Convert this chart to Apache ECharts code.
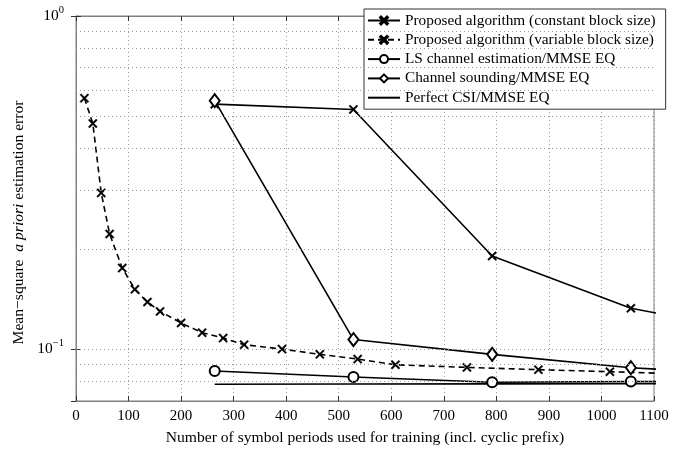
<!DOCTYPE html>
<html>
<head>
<meta charset="utf-8">
<script src="https://cdn.jsdelivr.net/npm/echarts@6/dist/echarts.min.js"></script>
<style>
  html, body { margin: 0; padding: 0; background: #fff; }
  #chart { width: 679px; height: 451px; }
</style>
</head>
<body>
<div id="chart"></div>
<script>
// donnees
const xConst = [264, 528, 792, 1056, 1320];
const yConst = [0.544, 0.5245, 0.1906, 0.1328, 0.1108];

const xVar = [16, 32, 48, 64, 88, 112, 136, 160, 200, 240, 280, 320, 392, 464, 536, 608, 744, 880, 1016, 1152];
const yVar = [0.567, 0.476, 0.2946, 0.2219, 0.1754, 0.1514, 0.1387, 0.130, 0.120, 0.1122, 0.1081, 0.1033,
              0.1002, 0.0966, 0.0935, 0.0899, 0.0883, 0.0869, 0.0857, 0.0844];

const xLS = [264, 528, 792, 1056, 1320];
const yLS = [0.0861, 0.0826, 0.0797, 0.0801, 0.0801];

const xSound = [264, 528, 792, 1056, 1320];
const ySound = [0.557, 0.107, 0.0966, 0.0881, 0.0834];

const xPerfect = [264, 528, 792, 1056, 1320];
const yPerfect = [0.0786, 0.0787, 0.0788, 0.0789, 0.0790];

// lignes de grille (style matlab, echelle log)
const yGrid = [0.08, 0.09, 0.1, 0.2, 0.3, 0.4, 0.5, 0.6, 0.7, 0.8, 0.9];

const names = [
  'Proposed algorithm (constant block size)',
  'Proposed algorithm (variable block size)',
  'LS channel estimation/MMSE EQ',
  'Channel sounding/MMSE EQ',
  'Perfect CSI/MMSE EQ'
];

const FONT = 'Liberation Serif';
const crossPath = 'path://M0,1.3L1.3,0L5,3.7L8.7,0L10,1.3L6.3,5L10,8.7L8.7,10L5,6.3L1.3,10L0,8.7L3.7,5Z';

function pairs(xs, ys) {
  return xs.map((x, i) => [x, ys[i]]);
}

function isPow10(v) {
  const l = Math.log10(v);
  return Math.abs(l - Math.round(l)) < 1e-6;
}

const chart = echarts.init(document.getElementById('chart'));

const axisGray = '#7f7f7f';

// pas de symbole pour la derniere entree de legende
const legendData = names.map((n, i) => i === 4 ? { name: n, itemStyle: { opacity: 0 } } : n);

const option = {
  animation: false,
  backgroundColor: '#fff',
  grid: {
    left: 76, right: 25, top: 16, bottom: 50,
    show: true, borderColor: axisGray, borderWidth: 1, backgroundColor: 'transparent'
  },
  legend: {
    data: legendData,
    orient: 'vertical',
    left: 364,
    top: 9,
    padding: [4, 10, 4, 3],
    itemGap: 4.3,
    itemWidth: 32,
    itemHeight: 10,
    backgroundColor: '#fff',
    borderColor: '#333',
    borderWidth: 1,
    textStyle: { fontFamily: FONT, fontSize: 15.3, color: '#000' }
  },
  xAxis: [{
    type: 'value',
    min: 0, max: 1100, interval: 100,
    name: 'Number of symbol periods used for training (incl. cyclic prefix)',
    nameLocation: 'middle',
    nameGap: 29,
    nameTextStyle: { fontFamily: FONT, fontSize: 15.6, color: '#000' },
    axisLine: { show: true, lineStyle: { color: axisGray } },
    axisTick: { show: true, inside: true, length: 5, lineStyle: { color: '#333' } },
    axisLabel: {
      fontFamily: FONT, fontSize: 15, color: '#000', margin: 8,
      formatter: v => String(v)
    },
    splitLine: { show: true, lineStyle: { color: '#9a9a9a', type: [1, 3], width: 1 } }
  }, {
    type: 'value',
    position: 'top',
    min: 0, max: 1100, interval: 100,
    axisLine: { show: true, lineStyle: { color: axisGray } },
    axisTick: { show: true, inside: true, length: 5, lineStyle: { color: '#333' } },
    axisLabel: { show: false },
    splitLine: { show: false }
  }],
  yAxis: [{
    type: 'log',
    logBase: 10,
    min: 0.07, max: 1,
    name: '{n|Mean\u2212square  }{i|a priori}{n| estimation error}',
    nameLocation: 'middle',
    nameGap: 49,
    nameTextStyle: {
      padding: [0, 28, 0, 0],
      rich: {
        n: { fontFamily: FONT, fontSize: 15.6, color: '#000' },
        i: { fontFamily: FONT, fontSize: 15.6, color: '#000', fontStyle: 'italic' }
      }
    },
    axisLine: { show: true, lineStyle: { color: axisGray } },
    axisTick: { show: true, inside: true, length: 5, lineStyle: { color: '#333' } },
    axisLabel: {
      margin: 12,
      showMinLabel: false,
      formatter: function (v) {
        if (!isPow10(v)) return '';
        const e = Math.round(Math.log10(v));
        return '{b|10}{s|' + (e < 0 ? '\u2212' + (-e) : e) + '}';
      },
      rich: {
        b: { fontFamily: FONT, fontSize: 15.5, color: '#000' },
        s: { fontFamily: FONT, fontSize: 10.5, color: '#000', padding: [0, 0, 12, 0] }
      }
    },
    splitLine: { show: false }
  }, {
    type: 'log',
    logBase: 10,
    min: 0.07, max: 1,
    position: 'right',
    axisLine: { show: true, lineStyle: { color: axisGray } },
    axisTick: { show: true, inside: true, length: 5, lineStyle: { color: '#333' } },
    axisLabel: { show: false },
    splitLine: { show: false }
  }],
  series: [
    {
      name: 'grille',
      type: 'line',
      data: [],
      z: 1,
      silent: true,
      markLine: {
        silent: true,
        symbol: 'none',
        label: { show: false },
        lineStyle: { color: '#9a9a9a', type: [1, 3], width: 1 },
        data: yGrid.map(v => ({ yAxis: v }))
      }
    },
    {
      name: names[0],
      type: 'line',
      z: 3,
      data: pairs(xConst, yConst),
      symbol: crossPath,
      symbolSize: 9,
      lineStyle: { color: '#000', width: 1.6 },
      itemStyle: { color: '#000', borderColor: '#000', borderWidth: 0.4 }
    },
    {
      name: names[1],
      type: 'line',
      z: 3,
      data: pairs(xVar, yVar),
      symbol: crossPath,
      symbolSize: 9,
      lineStyle: { color: '#000', width: 1.6, type: [6, 4] },
      itemStyle: { color: '#000', borderColor: '#000', borderWidth: 0.4 }
    },
    {
      name: names[2],
      type: 'line',
      z: 3,
      data: pairs(xLS, yLS),
      symbol: 'emptyCircle',
      symbolSize: 10,
      lineStyle: { color: '#000', width: 1.6 },
      itemStyle: { color: '#000', borderColor: '#000', borderWidth: 1.8 }
    },
    {
      name: names[3],
      type: 'line',
      z: 3,
      data: pairs(xSound, ySound),
      symbol: 'emptyDiamond',
      symbolSize: [10, 13],
      lineStyle: { color: '#000', width: 1.6 },
      itemStyle: { color: '#000', borderColor: '#000', borderWidth: 1.8 }
    },
    {
      name: names[4],
      type: 'line',
      z: 3,
      data: pairs(xPerfect, yPerfect),
      symbol: 'none',
      lineStyle: { color: '#000', width: 1.6 },
      itemStyle: { color: '#000' }
    }
  ]
};

chart.setOption(option);
</script>
</body>
</html>
